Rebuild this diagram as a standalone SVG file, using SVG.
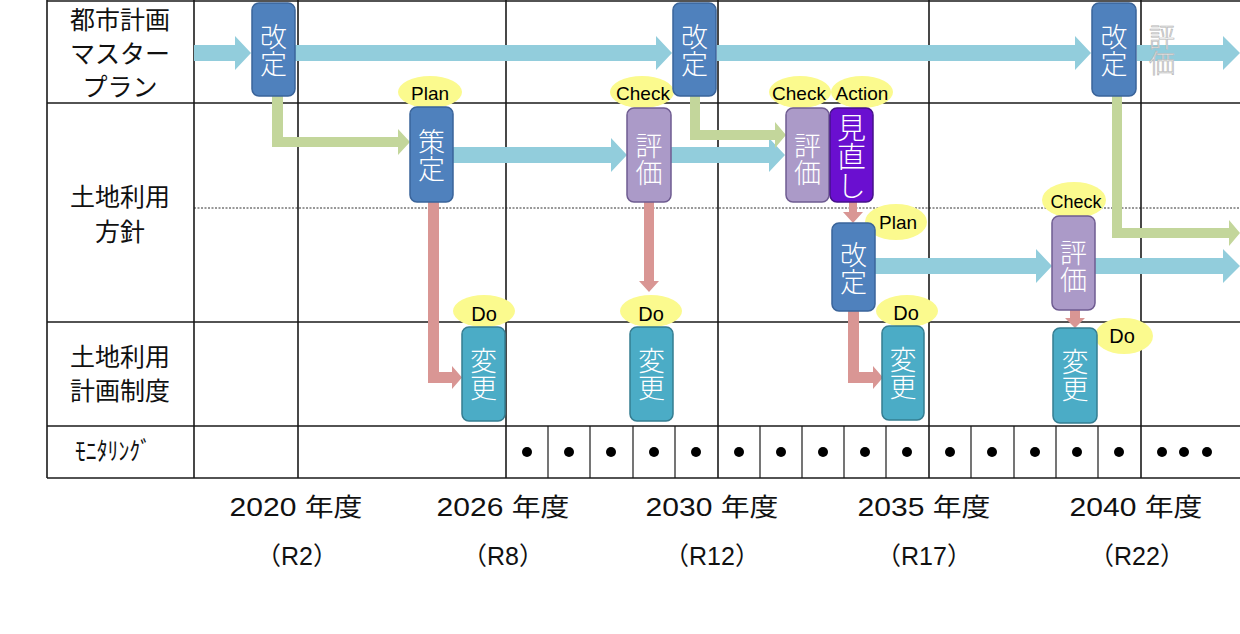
<svg xmlns="http://www.w3.org/2000/svg" width="1240" height="634" viewBox="0 0 1240 634">
<style>
.grid{stroke:#1a1a1a;stroke-width:1.6;fill:none}
.thin{stroke:#1a1a1a;stroke-width:1.2;fill:none}
.dot{stroke:#333;stroke-width:1;stroke-dasharray:2 1.5;fill:none}
.lab{font-family:"Noto Sans CJK JP","Liberation Sans",sans-serif;font-size:25px;fill:#111;text-anchor:middle}
.yr{font-family:"Liberation Sans","Noto Sans CJK JP",sans-serif;font-size:26px;fill:#111;text-anchor:middle}
.nt{font-family:"Noto Sans CJK JP",sans-serif;font-size:27px;fill:#fff;text-anchor:middle;font-weight:300;writing-mode:vertical-rl}
.el{fill:#fbfa8e}
.et{font-family:"Liberation Sans","Noto Sans",sans-serif;font-size:19px;fill:#000;text-anchor:middle}
.blue{fill:#4f81bd;stroke:#3a649a;stroke-width:1.5}
.purp{fill:#ab9ac8;stroke:#6f5c91;stroke-width:1.5}
.deep{fill:#6a0fd0;stroke:#46128a;stroke-width:1.5}
.teal{fill:#4bacc6;stroke:#357d91;stroke-width:1.5}
.ab{fill:#92cddc}
.ag{fill:#c3d69b}
.as{fill:#d99694}
</style>
<rect width="1240" height="634" fill="#fff"/>
<g id="grid">
<line class="grid" x1="47" y1="1" x2="1240" y2="1"/>
<line class="grid" x1="47" y1="103" x2="1240" y2="103"/>
<line class="grid" x1="47" y1="322" x2="1240" y2="322"/>
<line class="grid" x1="47" y1="426" x2="1240" y2="426"/>
<line class="grid" x1="47" y1="478" x2="1240" y2="478"/>
<line class="dot" x1="194" y1="208" x2="1240" y2="208"/>
<line class="grid" x1="47" y1="0" x2="47" y2="478"/>
<line class="grid" x1="194" y1="0" x2="194" y2="478"/>
<line class="grid" x1="298" y1="0" x2="298" y2="478"/>
<line class="grid" x1="506" y1="0" x2="506" y2="478"/>
<line class="grid" x1="718" y1="0" x2="718" y2="478"/>
<line class="grid" x1="929" y1="0" x2="929" y2="478"/>
<line class="grid" x1="1141" y1="0" x2="1141" y2="478"/>
<g class="thin">
<line x1="548" y1="426" x2="548" y2="478"/><line x1="590" y1="426" x2="590" y2="478"/>
<line x1="633" y1="426" x2="633" y2="478"/><line x1="675" y1="426" x2="675" y2="478"/>
<line x1="760" y1="426" x2="760" y2="478"/><line x1="802" y1="426" x2="802" y2="478"/>
<line x1="844" y1="426" x2="844" y2="478"/><line x1="886" y1="426" x2="886" y2="478"/>
<line x1="971" y1="426" x2="971" y2="478"/><line x1="1014" y1="426" x2="1014" y2="478"/>
<line x1="1056" y1="426" x2="1056" y2="478"/><line x1="1098" y1="426" x2="1098" y2="478"/>
</g>
</g>
<g id="labels">
<text class="lab"><tspan x="120" y="29">都市計画</tspan><tspan x="120" y="63">マスター</tspan><tspan x="120" y="96">プラン</tspan></text>
<text class="lab"><tspan x="120" y="206">土地利用</tspan><tspan x="120" y="241">方針</tspan></text>
<text class="lab"><tspan x="120" y="366">土地利用</tspan><tspan x="120" y="400">計画制度</tspan></text>
<text class="lab" x="113" y="460" style="font-size:25px" textLength="76" lengthAdjust="spacingAndGlyphs">ﾓﾆﾀﾘﾝｸﾞ</text>
</g>
<g id="monitoring" fill="#000">
<circle cx="527" cy="452" r="5"/><circle cx="569" cy="452" r="5"/><circle cx="611" cy="452" r="5"/>
<circle cx="654" cy="452" r="5"/><circle cx="696" cy="452" r="5"/><circle cx="739" cy="452" r="5"/>
<circle cx="781" cy="452" r="5"/><circle cx="823" cy="452" r="5"/><circle cx="865" cy="452" r="5"/>
<circle cx="907" cy="452" r="5"/><circle cx="950" cy="452" r="5"/><circle cx="992" cy="452" r="5"/>
<circle cx="1035" cy="452" r="5"/><circle cx="1077" cy="452" r="5"/><circle cx="1119" cy="452" r="5"/>
<circle cx="1162" cy="452" r="5"/><circle cx="1184" cy="452" r="5"/><circle cx="1207" cy="452" r="5"/>
</g>
<g id="years">
<text class="yr" x="296" y="516" textLength="133" lengthAdjust="spacingAndGlyphs">2020 <tspan style="font-size:25px">年度</tspan></text>
<text class="yr" x="503" y="516" textLength="133" lengthAdjust="spacingAndGlyphs">2026 <tspan style="font-size:25px">年度</tspan></text>
<text class="yr" x="712" y="516" textLength="133" lengthAdjust="spacingAndGlyphs">2030 <tspan style="font-size:25px">年度</tspan></text>
<text class="yr" x="924" y="516" textLength="133" lengthAdjust="spacingAndGlyphs">2035 <tspan style="font-size:25px">年度</tspan></text>
<text class="yr" x="1136" y="516" textLength="133" lengthAdjust="spacingAndGlyphs">2040 <tspan style="font-size:25px">年度</tspan></text>
<text class="yr" x="297" y="565" style="font-size:25px">（R2）</text>
<text class="yr" x="503" y="565" style="font-size:25px">（R8）</text>
<text class="yr" x="712" y="565" style="font-size:25px">（R12）</text>
<text class="yr" x="924" y="565" style="font-size:25px">（R17）</text>
<text class="yr" x="1137" y="565" style="font-size:25px">（R22）</text>
</g>
<g id="connectors">
<polygon class="ab" points="194,45 235,45 235,36 251,53 235,70 235,61 194,61"/>
<polygon class="ab" points="295,45 656,45 656,36 672,53 656,70 656,61 295,61"/>
<polygon class="ab" points="717,45 1075,45 1075,36 1091,53 1075,70 1075,61 717,61"/>
<polygon class="ab" points="1137,45 1223,45 1223,36 1240,53 1223,70 1223,61 1137,61"/>
<polygon class="ab" points="453,147 611,147 611,138 627,155 611,172 611,163 453,163"/>
<polygon class="ab" points="671,147 769,147 769,138 785,155 769,172 769,163 671,163"/>
<polygon class="ab" points="875,258 1036,258 1036,249 1052,266 1036,283 1036,274 875,274"/>
<polygon class="ab" points="1095,258 1223,258 1223,249 1240,266 1223,283 1223,274 1095,274"/>
<polygon class="ag" points="272,96 283,96 283,137 398,137 398,129 410,142 398,155 398,147 272,147"/>
<polygon class="ag" points="690,96 700,96 700,130 775,130 775,122 786,135 775,148 775,140 690,140"/>
<polygon class="ag" points="1112,96 1122,96 1122,228 1229,228 1229,220 1240,233 1229,246 1229,238 1112,238"/>
<polygon class="as" points="428,202 439,202 439,372 452,372 452,366 462,377.5 452,389 452,383 428,383"/>
<polygon class="as" points="644,202 654,202 654,281 659,281 649,292 639,281 644,281"/>
<polygon class="as" points="849,202 857,202 857,212 863,212 853,223 843,212 849,212"/>
<polygon class="as" points="848,311 859,311 859,372 873,372 873,366 883,377.5 873,389 873,383 848,383"/>
<polygon class="as" points="1070,310 1080,310 1080,318 1085,318 1075,328 1065,318 1070,318"/>
</g>
<g id="faded-label">
<text x="1162" y="50" style="font-family:'Noto Sans CJK JP',sans-serif;font-size:26px;font-weight:300;fill:#fff;stroke:#b4b4b4;stroke-width:0.7;text-anchor:middle;writing-mode:vertical-rl">評価</text>
</g>
<g id="tags">
<ellipse class="el" cx="430" cy="92" rx="32" ry="16"/><text class="et" x="430" y="100">Plan</text>
<ellipse class="el" cx="642" cy="92" rx="32" ry="16"/><text class="et" x="643" y="100">Check</text>
<ellipse class="el" cx="800" cy="92" rx="31" ry="16"/><text class="et" x="799" y="100">Check</text>
<ellipse class="el" cx="862" cy="92" rx="31" ry="16"/><text class="et" x="862" y="100">Action</text>
<ellipse class="el" cx="896" cy="222" rx="31" ry="18"/><text class="et" x="898" y="229">Plan</text>
<ellipse class="el" cx="1074" cy="200" rx="32" ry="18"/><text class="et" x="1076" y="208" style="font-size:18px">Check</text>
<ellipse class="el" cx="484" cy="311" rx="31" ry="16"/><text class="et" x="484" y="321" style="font-size:20px">Do</text>
<ellipse class="el" cx="651" cy="311" rx="31" ry="16"/><text class="et" x="651" y="321" style="font-size:20px">Do</text>
<ellipse class="el" cx="907" cy="311" rx="31" ry="16"/><text class="et" x="906" y="320" style="font-size:20px">Do</text>
<ellipse class="el" cx="1124" cy="336" rx="29" ry="18"/><text class="et" x="1122" y="343" style="font-size:20px">Do</text>
</g>
<g id="node-kaitei-1"><rect class="blue" x="252" y="3" width="43" height="93" rx="7"/><text class="nt" x="273.5" y="50">改定</text></g>
<g id="node-kaitei-2"><rect class="blue" x="673" y="3" width="43" height="93" rx="7"/><text class="nt" x="694.5" y="50">改定</text></g>
<g id="node-kaitei-3"><rect class="blue" x="1092" y="3" width="44" height="93" rx="7"/><text class="nt" x="1114" y="50">改定</text></g>
<g id="node-sakutei"><rect class="blue" x="410" y="107" width="43" height="95" rx="7"/><text class="nt" x="431.5" y="155">策定</text></g>
<g id="node-hyoka-1"><rect class="purp" x="627" y="108" width="44" height="94" rx="7"/><text class="nt" x="649" y="159">評価</text></g>
<g id="node-hyoka-2"><rect class="purp" x="786" y="108" width="43" height="94" rx="7"/><text class="nt" x="807.5" y="159">評価</text></g>
<g id="node-minaoshi"><rect class="deep" x="830" y="108" width="43" height="94" rx="7"/><text class="nt" x="851.5" y="157" style="font-size:29px">見直し</text></g>
<g id="node-kaitei-4"><rect class="blue" x="832" y="223" width="43" height="88" rx="7"/><text class="nt" x="853.5" y="268">改定</text></g>
<g id="node-hyoka-3"><rect class="purp" x="1052" y="216" width="43" height="94" rx="7"/><text class="nt" x="1073.5" y="266">評価</text></g>
<g id="node-henko-1"><rect class="teal" x="462" y="327" width="43" height="94" rx="7"/><text class="nt" x="483.5" y="374">変更</text></g>
<g id="node-henko-2"><rect class="teal" x="630" y="327" width="43" height="94" rx="7"/><text class="nt" x="651.5" y="374">変更</text></g>
<g id="node-henko-3"><rect class="teal" x="882" y="326" width="42" height="94" rx="7"/><text class="nt" x="903" y="373">変更</text></g>
<g id="node-henko-4"><rect class="teal" x="1053" y="328" width="44" height="95" rx="7"/><text class="nt" x="1075" y="375">変更</text></g>
</svg>
